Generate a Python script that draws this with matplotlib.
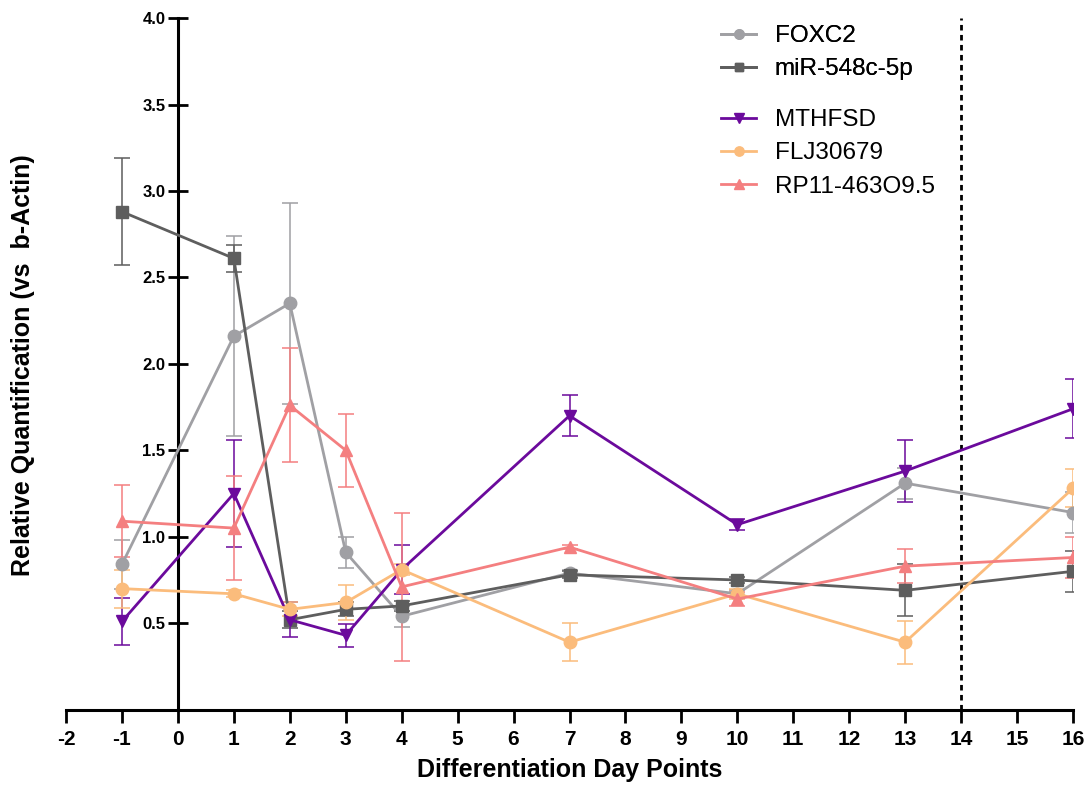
import numpy as np
import matplotlib.pyplot as plt

# dati
days = [-1, 1, 2, 3, 4, 7, 10, 13, 16]

foxc2 = [0.84, 2.16, 2.35, 0.91, 0.54, 0.79, 0.67, 1.31, 1.14]
foxc2_err = [0.14, 0.58, 0.58, 0.09, 0.06, 0.02, 0.02, 0.09, 0.12]

mir = [2.88, 2.61, 0.52, 0.58, 0.60, 0.78, 0.75, 0.69, 0.80]
mir_err = [0.31, 0.08, 0.05, 0.04, 0.03, 0.02, 0.02, 0.15, 0.12]

mthfsd = [0.51, 1.25, 0.52, 0.43, 0.81, 1.70, 1.07, 1.38, 1.74]
mthfsd_err = [0.135, 0.31, 0.10, 0.065, 0.14, 0.12, 0.03, 0.18, 0.17]

flj = [0.70, 0.67, 0.58, 0.62, 0.81, 0.39, 0.67, 0.39, 1.28]
flj_err = [0.11, 0.02, 0.04, 0.10, 0.03, 0.11, 0.03, 0.125, 0.11]

rp11 = [1.09, 1.05, 1.76, 1.50, 0.71, 0.94, 0.64, 0.83, 0.88]
rp11_err = [0.21, 0.30, 0.33, 0.21, 0.43, 0.01, 0.04, 0.10, 0.12]

xticks = list(range(-2, 17))
yticks = [0.5, 1.0, 1.5, 2.0, 2.5, 3.0, 3.5, 4.0]

fig = plt.figure(figsize=(10.91, 7.85), dpi=100)
ax = fig.add_axes([0.0605, 0.096, 0.923, 0.881])

series = [
    ('FOXC2', foxc2, foxc2_err, '#a0a0a4', 'o', 9),
    ('miR-548c-5p', mir, mir_err, '#5e5e5e', 's', 8.5),
    ('MTHFSD', mthfsd, mthfsd_err, '#6b0a9c', 'v', 9),
    ('FLJ30679', flj, flj_err, '#fbbc7c', 'o', 9),
    ('RP11-463O9.5', rp11, rp11_err, '#f47f80', '^', 9),
]

handles = []
for name, y, e, c, m, ms in series:
    ax.errorbar(days, y, yerr=e, fmt='none', ecolor=c, elinewidth=1.3,
                capsize=5.5, capthick=1.3, alpha=0.85, zorder=2)
    h, = ax.plot(days, y, color=c, marker=m, ms=ms, lw=2, label=name, zorder=3)
    handles.append(h)

# garis putus-putus di hari 14
ax.plot([14, 14], [0, 4], color='black', lw=2, linestyle=(0, (2, 1.6)), zorder=1)

ax.set_xlim(-2, 16)
ax.set_ylim(0, 4)
ax.spines['left'].set_position(('data', 0))
ax.spines['right'].set_visible(False)
ax.spines['top'].set_visible(False)
ax.spines['left'].set_linewidth(2.2)
ax.spines['bottom'].set_linewidth(2.2)

ax.set_xticks(xticks)
ax.set_xticklabels([str(v) for v in xticks], fontweight='bold', fontsize=15,
                   family='Liberation Sans')
ax.set_yticks(yticks)
ax.set_yticklabels(['%.1f' % v for v in yticks], fontweight='bold', fontsize=12,
                   family='Liberation Sans')
ax.tick_params(axis='x', direction='out', length=9, width=2, pad=6)
ax.tick_params(axis='y', direction='inout', length=14, width=2, pad=2)

fig.text(0.021, 0.535, 'Relative Quantification (vs  b-Actin)', rotation=90,
         ha='center', va='center', fontsize=18, fontweight='bold', family='Liberation Sans')
fig.text(0.5225, 0.019, 'Differentiation Day Points', ha='center', va='center',
         fontsize=18, fontweight='bold', family='Liberation Sans')

leg_kw = dict(frameon=False, handlelength=1.45, handletextpad=0.75, labelspacing=0.46,
              prop={'family': 'Liberation Sans', 'size': 17.5}, borderaxespad=0,
              borderpad=0, markerscale=0.75)
leg1 = fig.legend(handles=handles[:2], loc='upper left', bbox_to_anchor=(0.661, 0.968), **leg_kw)
fig.add_artist(leg1)
fig.legend(handles=handles[2:], loc='upper left', bbox_to_anchor=(0.661, 0.861), **leg_kw)

fig.savefig('out.png', dpi=100)
